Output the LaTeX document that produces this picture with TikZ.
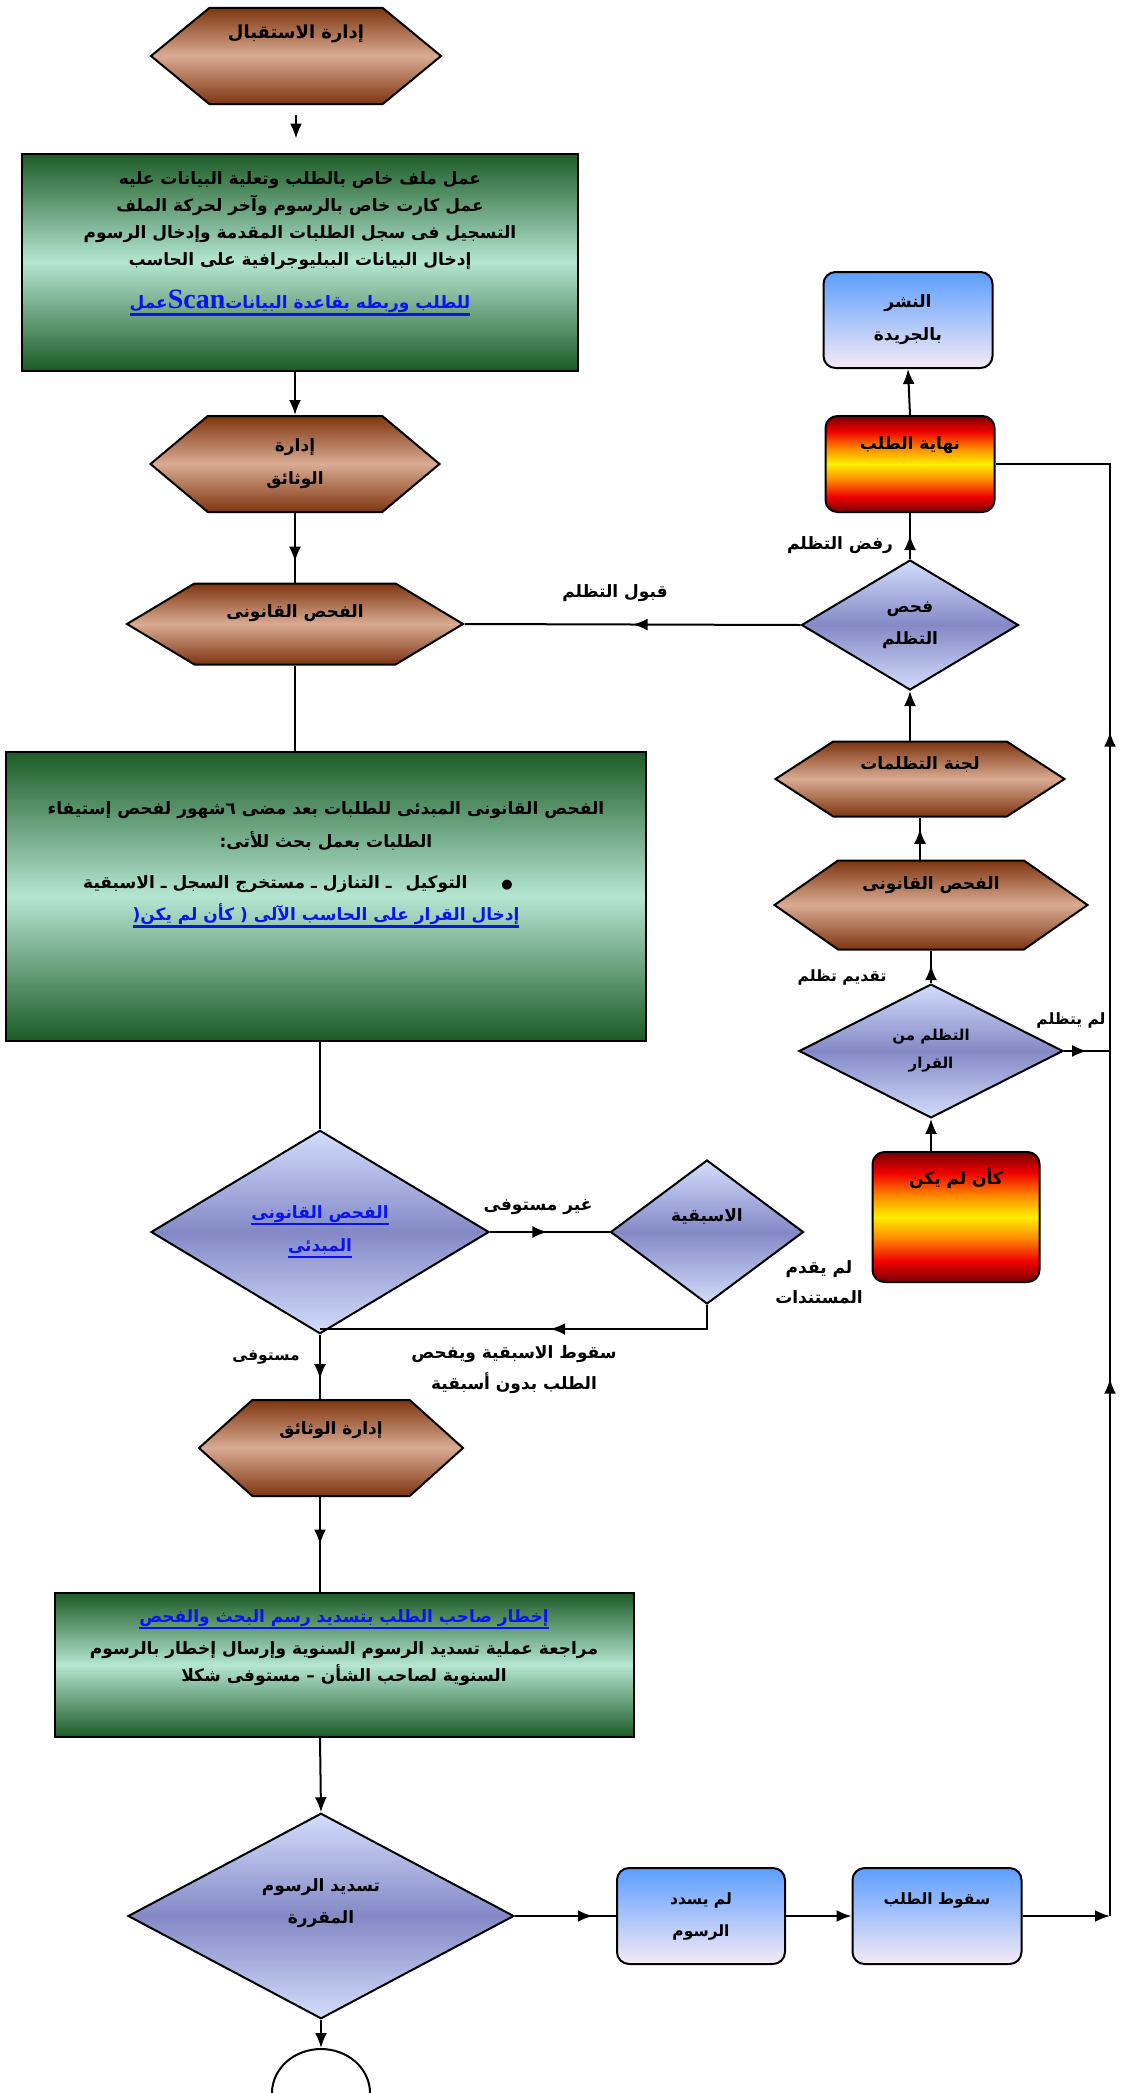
\documentclass[tikz,border=0pt]{standalone}
\usepackage{fontspec}
\newfontfamily\arabicfont[Script=Arabic]{DejaVu Sans}
\newfontfamily\scanfont{Liberation Serif}
\TeXXeTstate=1
\usetikzlibrary{shapes.geometric,shapes.symbols,arrows.meta,decorations.markings}
\definecolor{hexdark}{HTML}{7E3510}
\definecolor{hexlight}{HTML}{D9AB92}
\definecolor{grdark}{HTML}{1C5B26}
\definecolor{grlight}{HTML}{B4E6D2}
\definecolor{diadark}{HTML}{8489C6}
\definecolor{dialight}{HTML}{D3DDFC}
\definecolor{bltop}{HTML}{5C9EFF}
\definecolor{blbot}{HTML}{F6EAF4}
\definecolor{linkblue}{HTML}{0A14F0}
\definecolor{firedark}{HTML}{780000}
\definecolor{firered}{HTML}{F00000}
\definecolor{fireorange}{HTML}{FF8C00}
\definecolor{fireyellow}{HTML}{FFF000}
\pgfdeclareverticalshading{fire}{100bp}{color(0bp)=(firedark); color(25bp)=(firedark);
  color(33bp)=(firered); color(42bp)=(fireorange); color(50bp)=(fireyellow);
  color(58bp)=(fireorange); color(67bp)=(firered); color(75bp)=(firedark); color(100bp)=(firedark)}
\newcommand{\arbf}{\arabicfont\bfseries\fontsize{17}{27}\selectfont}
\newcommand{\arsm}{\arabicfont\bfseries\fontsize{15.5}{26}\selectfont}
\newcommand{\arbig}{\arabicfont\bfseries\fontsize{18}{27}\selectfont}
\newcommand{\ulbox}[1]{\setbox0=\hbox{#1}\rlap{\rule[-7pt]{\wd0}{2.4pt}}\box0}

\begin{document}
\begin{tikzpicture}[
  x=1pt,y=-1pt,
  line width=2pt,
  >={Latex[length=15pt,width=12pt]},
  every node/.style={font=\arbf},
  every label/.style={align=center},
  hexbox/.style={signal,signal to=east and west,draw,top color=hexdark,bottom color=hexdark,middle color=hexlight,align=center},
  greenbox/.style={rectangle,draw,top color=grdark,bottom color=grdark,middle color=grlight},
  ask/.style={diamond,draw,top color=dialight,bottom color=dialight,middle color=diadark,align=center},
  bluebox/.style={rectangle,rounded corners=12pt,draw,top color=bltop,bottom color=blbot,align=center},
  firebox/.style={rectangle,rounded corners=12pt,draw,shade,shading=fire},
  tipat/.style={postaction={decorate,decoration={markings,mark=at position #1 with {\arrow{Latex[length=15pt,width=12pt]}}}}},
  ]
  \useasboundingbox (0,0) rectangle (1131,2093);
  \clip (0,0) rectangle (1131,2093);
  \node (recv) [hexbox,minimum width=290pt,minimum height=96pt,signal pointer angle=79,
    label={[yshift=22pt,font=\arbig]center:{\beginR إدارة الاستقبال\endR}}] at (296,56) {};
  \node (file) [greenbox,minimum width=556pt,minimum height=217pt,
    label={[anchor=north,yshift=-15pt]north:{\beginR عمل ملف خاص بالطلب وتعلية البيانات عليه\endR\\
      \beginR عمل كارت خاص بالرسوم وآخر لحركة الملف\endR\\
      \beginR التسجيل فى سجل الطلبات المقدمة وإدخال الرسوم\endR\\
      \beginR إدخال البيانات الببليوجرافية على الحاسب\endR\\[16pt]
      {\color{linkblue}\ulbox{\beginR للطلب وربطه بقاعدة البيانات\beginL{\scanfont\fontsize{28}{30}\selectfont Scan}\endL عمل\endR}}}}] at (300,262) {};
  \node (docs) [hexbox,minimum width=289pt,minimum height=96pt,signal pointer angle=80] at (295,464)
    {\beginR إدارة\endR\\[6pt]\beginR الوثائق\endR};
  \node (legal) [hexbox,minimum width=336pt,minimum height=81pt,signal pointer angle=62,
    label={[yshift=11pt]center:{\beginR الفحص القانونى\endR}}] at (295,624) {};
  \node (prebox) [greenbox,minimum width=640pt,minimum height=289pt,
    label={[anchor=north,yshift=-47pt]north:{\beginR الفحص القانونى المبدئى للطلبات بعد مضى ٦شهور لفحص إستيفاء\endR\\[6pt]
      \beginR الطلبات بعمل بحث للأتى\kern0pt:\endR\\[14pt]
      \beginR\hspace*{56pt}{\fontsize{13}{13}\selectfont ●}\hspace{34pt}التوكيل\hspace{14pt}ـ التنازل ـ مستخرج السجل ـ الاسبقية\endR\\[5pt]
      {\color{linkblue}\ulbox{\beginR إدخال القرار على الحاسب الآلى ( كأن لم يكن\kern0pt(\endR}}}}] at (326,896) {};
  \node (prelim) [ask,minimum width=338pt,minimum height=144pt,text=linkblue] at (320,1232)
    {\ulbox{\beginR الفحص القانونى\endR}\\[6pt]\ulbox{\beginR المبدئى\endR}};
  \node (prior) [ask,minimum width=193pt,minimum height=144pt,
    label={[yshift=15pt]center:{\beginR الاسبقية\endR}}] at (707,1232) {};
  \node (docs2) [hexbox,minimum width=264pt,minimum height=96pt,signal pointer angle=84,
    label={[yshift=18pt]center:{\beginR إدارة الوثائق\endR}}] at (331,1448) {};
  \node (notify) [greenbox,minimum width=579pt,minimum height=144pt,
    label={[anchor=north,yshift=-13pt]north:{{\color{linkblue}\ulbox{\beginR إخطار صاحب الطلب بتسديد رسم البحث والفحص\endR}}\\[5pt]
      \beginR مراجعة عملية تسديد الرسوم السنوية وإرسال إخطار بالرسوم\endR\\
      \beginR السنوية لصاحب الشأن – مستوفى شكلا\endR}}] at (344,1665) {};
  \node (paid) [ask,minimum width=386pt,minimum height=167pt] at (321,1916)
    {\beginR تسديد الرسوم\endR\\[5pt]\beginR المقررة\endR\\[2pt]};
  \node (unpaid) [bluebox,minimum width=168pt,minimum height=96pt,font=\arsm] at (701,1916)
    {\beginR لم يسدد\endR\\[6pt]\beginR الرسوم\endR};
  \node (fall) [bluebox,minimum width=169pt,minimum height=96pt,
    label={[yshift=16pt,font=\arsm]center:{\beginR سقوط الطلب\endR}}] at (937,1916) {};
  \node (stop) [ellipse,draw,fill=white,minimum width=98pt,minimum height=88pt] at (321,2093) {};
  \coordinate (ret) at (1110,1916);
  \node (kan) [firebox,minimum width=167pt,minimum height=130pt,
    label={[yshift=39pt]center:{\beginR كأن لم يكن\endR}}] at (956,1217) {};
  \node (appeal) [ask,minimum width=264pt,minimum height=112pt,font=\arabicfont\bfseries\fontsize{15}{24}\selectfont] at (931,1051)
    {\beginR التظلم من\endR\\[4pt]\beginR القرار\endR};
  \node (lawcheck) [hexbox,minimum width=313pt,minimum height=89pt,signal pointer angle=70,
    label={[yshift=20pt]center:{\beginR الفحص القانونى\endR}}] at (931,905) {};
  \node (committee) [hexbox,minimum width=289pt,minimum height=75pt,signal pointer angle=66,
    label={[yshift=14pt]center:{\beginR لجنة التظلمات\endR}}] at (920,779) {};
  \node (review) [ask,minimum width=217pt,minimum height=130pt] at (910,625)
    {\beginR فحص\endR\\[5pt]\beginR التظلم\endR};
  \node (endreq) [firebox,minimum width=169pt,minimum height=96pt,
    label={[yshift=19pt]center:{\beginR نهاية الطلب\endR}}] at (910,464) {};
  \node (publish) [bluebox,minimum width=169pt,minimum height=96pt] at (908,320)
    {\beginR النشر\endR\\[6pt]\beginR بالجريدة\endR};
  \node (yesacc) at (615,593) {\beginR قبول التظلم\endR};
  \node (noacc) at (840,545) {\beginR رفض التظلم\endR};
  \node (filed) [font=\arsm] at (842,977) {\beginR تقديم تظلم\endR};
  \node (nofile) [font=\arsm] at (1071,1020) {\beginR لم يتظلم\endR};
  \node (incomplete) at (538,1207) {\beginR غير مستوفى\endR};
  \node (nodocs) [align=center] at (819,1282) {\beginR لم يقدم\endR\\[3pt]\beginR المستندات\endR};
  \node (dropped) [align=center] at (514,1370) {\beginR سقوط الاسبقية ويفحص\endR\\[4pt]\beginR الطلب بدون أسبقية\endR};
  \node (complete) [font=\arsm] at (266,1358) {\beginR مستوفى\endR};
  \draw[->,shorten <=10pt,shorten >=14pt] (recv.south) -- (recv.south |- file.north);
  \draw[->] (file.south -| docs.north) -- (docs.north);
  \draw[tipat=.7] (docs.south) -- (legal.north);
  \draw (legal.south) -- (legal.south |- prebox.north);
  \draw (prelim.north |- prebox.south) -- (prelim.north);
  \draw[tipat=.48] (prelim.east) -- (prior.west);
  \draw[tipat=.44] (prior.south) -- ++(0,24) coordinate (merge) -- (merge -| prelim.south);
  \draw[tipat=.69] (prelim.south) -- (prelim.south |- docs2.north);
  \draw[tipat=.5] (prelim.south |- docs2.south) -- (prelim.south |- notify.north);
  \draw[->] (prelim.south |- notify.south) -- (paid.north);
  \draw[tipat=.77] (paid.east) -- (unpaid.west);
  \draw[->] (unpaid.east) -- (fall.west);
  \draw[->] (fall.east) -- (ret);
  \draw[tipat=.343,tipat=.756] (ret) |- (endreq.east);
  \draw[->] (paid.south) -- (stop.north);
  \draw[tipat=.5] (appeal.east) -- (appeal.east -| ret);
  \draw[->] (appeal.south |- kan.north) -- (appeal.south);
  \draw[tipat=.55] (appeal.north) -- (lawcheck.south);
  \draw[tipat=.73] (committee.south |- lawcheck.north) -- (committee.south);
  \draw[->] (review.south |- committee.north) -- (review.south);
  \draw[tipat=.52] (review.north) -- (endreq.south);
  \draw[->] (endreq.north) -- (publish.south);
  \draw[tipat=.5] (review.west) -- (legal.east);
\end{tikzpicture}
\end{document}
